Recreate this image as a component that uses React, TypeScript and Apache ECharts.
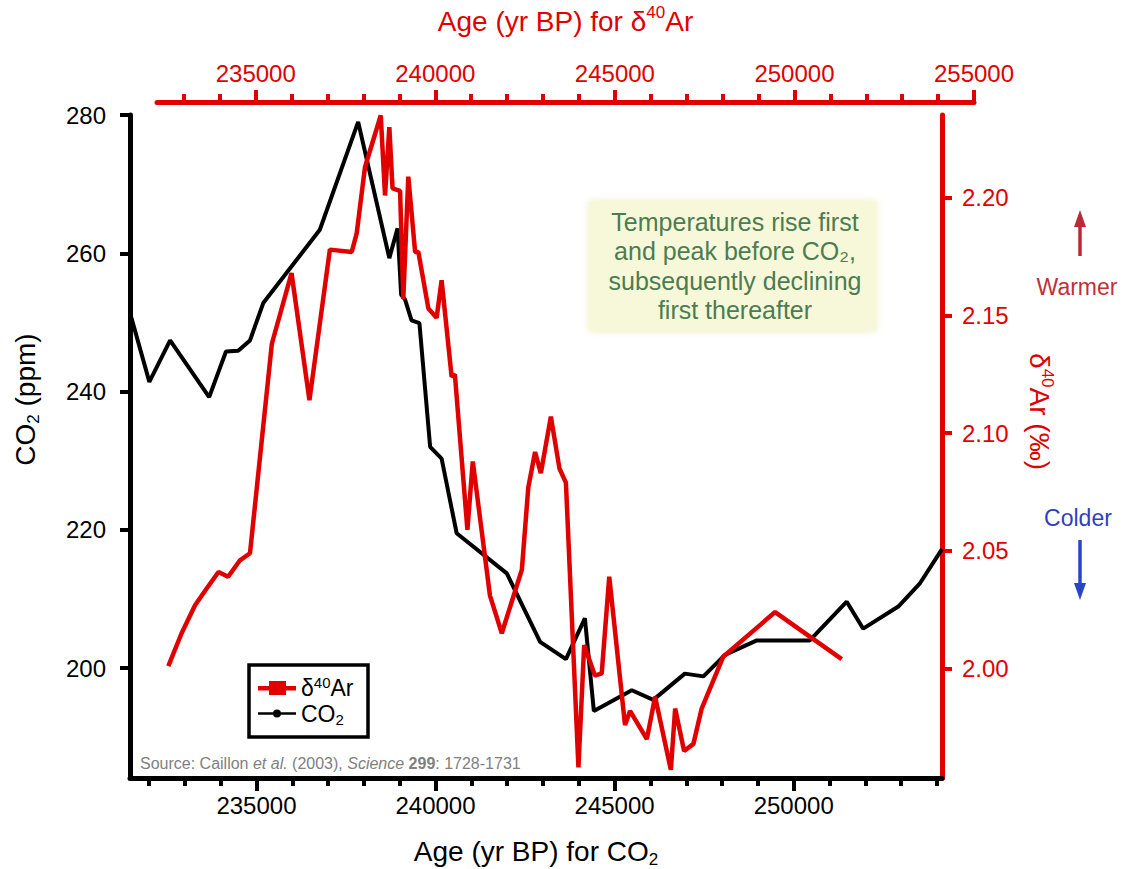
import React, { useEffect, useRef } from 'react';
import * as echarts from 'echarts';

// CO2 record (age in yr BP, ppm)
const co2Age = [231470, 232010, 232590, 233680, 234150, 234490, 234820, 235190, 236770, 237840, 238710, 238940, 239040, 239150, 239330, 239550, 239850, 240170, 240590, 241990, 242920, 243640, 244170, 244420, 245480, 246080, 246960, 247480, 248080, 248970, 250450, 251480, 251940, 252920, 253530, 254140];
const co2Ppm = [251.4, 241.4, 247.4, 239.2, 245.8, 245.9, 247.4, 252.8, 263.4, 279.0, 259.3, 263.6, 254.0, 253.3, 250.3, 249.9, 232.0, 230.3, 219.5, 213.7, 203.8, 201.3, 207.2, 193.8, 196.8, 195.4, 199.2, 198.8, 201.9, 204.0, 204.0, 209.6, 205.7, 208.9, 212.3, 217.2];

// delta 40Ar record (age in yr BP, permil)
const arAge = [232540, 232910, 233290, 233610, 233940, 234210, 234540, 234820, 235430, 235980, 236480, 237050, 237660, 237800, 238030, 238470, 238590, 238710, 238800, 239010, 239100, 239240, 239430, 239520, 239800, 240030, 240170, 240450, 240540, 240890, 241040, 241520, 241850, 242410, 242590, 242780, 242940, 243220, 243460, 243640, 243990, 244150, 244450, 244640, 244850, 245290, 245430, 245900, 246130, 246570, 246690, 246940, 247200, 247430, 248030, 249480, 251340];
const arPermil = [2.001, 2.015, 2.027, 2.034, 2.041, 2.039, 2.046, 2.049, 2.138, 2.168, 2.114, 2.178, 2.177, 2.185, 2.213, 2.235, 2.201, 2.230, 2.204, 2.203, 2.157, 2.209, 2.177, 2.177, 2.153, 2.149, 2.165, 2.124, 2.125, 2.059, 2.088, 2.031, 2.015, 2.042, 2.077, 2.092, 2.083, 2.107, 2.085, 2.079, 1.958, 2.010, 1.997, 1.998, 2.039, 1.976, 1.982, 1.970, 1.988, 1.957, 1.983, 1.965, 1.968, 1.983, 2.005, 2.024, 2.004];

// tick labels
const bottomTicks = [235000, 240000, 245000, 250000];
const topTicks = [235000, 240000, 245000, 250000, 255000];
const co2Ticks = [200, 220, 240, 260, 280];
const arTicks = [2.0, 2.05, 2.1, 2.15, 2.2];

const RED = '#e00000';
const FONT = '"Liberation Sans", Arial, Helvetica, sans-serif';

export default function App() {
  const ref = useRef<HTMLDivElement>(null);

  useEffect(() => {
    if (!ref.current) return;
    const chart = echarts.init(ref.current, null, { renderer: 'svg' });

    const co2Data = co2Age.map((a, i) => [a, co2Ppm[i]]);
    const arData = arAge.map((a, i) => [a, arPermil[i]]);

    const rich = (color: string) => ({
      t: { fontSize: 28, lineHeight: 34, color, fontFamily: FONT },
      sup: { fontSize: 17, lineHeight: 17, verticalAlign: 'top', color, fontFamily: FONT },
      sub: { fontSize: 17, lineHeight: 17, verticalAlign: 'bottom', color, fontFamily: FONT },
    });
    const legendRich = {
      t: { fontSize: 23, lineHeight: 26, color: '#000', fontFamily: FONT },
      sup: { fontSize: 15, lineHeight: 6, verticalAlign: 'top', color: '#000', fontFamily: FONT },
      sub: { fontSize: 15, lineHeight: 6, verticalAlign: 'bottom', color: '#000', fontFamily: FONT },
    };

    const AXW = 5;
    const xCommon = (color: string) => ({
      type: 'value',
      axisLine: { show: true, onZero: false, lineStyle: { color, width: AXW } },
      minorTick: { show: true, splitNumber: 5, length: 8, lineStyle: { color, width: 4 } },
      splitLine: { show: false },
      minorSplitLine: { show: false },
      minInterval: 5000,
      maxInterval: 5000,
      nameLocation: 'middle',
      nameMoveOverlap: false,
    });

    const option: any = {
      animation: false,
      textStyle: { fontFamily: FONT },
      grid: [
        { left: 130, right: 183, top: 115, bottom: 91, containLabel: false, outerBoundsMode: 'none' },
        { left: 157, right: 151, top: 102, height: 1, containLabel: false, outerBoundsMode: 'none' },
      ],
      xAxis: [
        {
          ...xCommon('#000'),
          gridIndex: 0,
          position: 'bottom',
          min: 231470,
          max: 254140,
          axisTick: { show: true, length: 13, customValues: bottomTicks, lineStyle: { color: '#000', width: 4 } },
          axisLabel: { customValues: bottomTicks, formatter: (v: number) => String(v), color: '#000', fontSize: 24, margin: 15, fontFamily: FONT },
          name: '{t|Age (yr BP) for CO}{sub|2}',
          nameGap: 56,
          nameTextStyle: { rich: rich('#000') },
        },
        {
          ...xCommon(RED),
          gridIndex: 1,
          position: 'top',
          min: 232250,
          max: 255000,
          axisTick: { show: true, length: 12, customValues: topTicks, lineStyle: { color: RED, width: 4 } },
          axisLabel: { customValues: topTicks, formatter: (v: number) => String(v), color: RED, fontSize: 24, margin: 17, fontFamily: FONT },
          name: '{t|Age (yr BP) for δ}{sup|40}{t|Ar}',
          nameGap: 64,
          nameTextStyle: { rich: rich(RED) },
        },
      ],
      yAxis: [
        {
          type: 'value',
          gridIndex: 0,
          position: 'left',
          min: 184.1,
          max: 280,
          axisLine: { show: true, onZero: false, lineStyle: { color: '#000', width: AXW } },
          axisTick: { show: true, length: 10, customValues: co2Ticks, lineStyle: { color: '#000', width: 4 } },
          axisLabel: { customValues: co2Ticks, color: '#000', fontSize: 24, margin: 24, fontFamily: FONT },
          splitLine: { show: false },
          name: '{t|CO}{sub|2}{t| (ppm)}',
          nameLocation: 'middle',
          nameGap: 88,
          nameMoveOverlap: false,
          nameTextStyle: { rich: rich('#000'), padding: [0, 0, 0, 94] },
        },
        {
          type: 'value',
          gridIndex: 0,
          position: 'right',
          min: 1.9535,
          max: 2.2352,
          axisLine: { show: true, onZero: false, lineStyle: { color: RED, width: AXW } },
          axisTick: { show: true, length: 10, customValues: arTicks, lineStyle: { color: RED, width: 4 } },
          axisLabel: { customValues: arTicks, formatter: (v: number) => v.toFixed(2), color: RED, fontSize: 24, margin: 20, fontFamily: FONT },
          splitLine: { show: false },
          name: '{t|δ}{sup|40}{t|Ar (‰)}',
          nameLocation: 'middle',
          nameRotate: -90,
          nameGap: 80,
          nameMoveOverlap: false,
          nameTextStyle: { rich: rich(RED), padding: [0, 70, 0, 0] },
        },
        { type: 'value', gridIndex: 1, show: false, min: 0, max: 1 },
      ],
      legend: [
        {
          data: [{ name: 'δ40Ar', icon: 'path://M0,5L38,5L38,9.5L0,9.5Z M11,0L28,0L28,14L11,14Z' }],
          left: 258,
          top: 675,
          orient: 'vertical',
          padding: 0,
          itemWidth: 38,
          itemHeight: 14,
          selectedMode: false,
          z: 6,
          itemStyle: { borderWidth: 0 },
          formatter: () => '{t|δ}{sup|40}{t|Ar}',
          textStyle: { rich: legendRich },
        },
        {
          data: [{ name: 'CO2', icon: 'path://M0,2.7L38,2.7L38,5.3L0,5.3Z M19,0A4,4 0 1 1 19,8A4,4 0 1 1 19,0Z' }],
          left: 258,
          top: 702,
          orient: 'vertical',
          padding: 0,
          itemWidth: 38,
          itemHeight: 8,
          selectedMode: false,
          z: 6,
          itemStyle: { borderWidth: 0 },
          formatter: () => '{t|CO}{sub|2}',
          textStyle: { rich: legendRich },
        },
      ],
      graphic: [
        {
          type: 'rect',
          z: 3,
          shape: { x: 249, y: 665, width: 119, height: 72 },
          style: { fill: '#fff', stroke: '#000', lineWidth: 3.5 },
        },
        {
          type: 'text',
          z: 3,
          style: {
            x: 140,
            y: 763,
            verticalAlign: 'middle',
            text: '{n|Source: Caillon }{i|et al.}{n| (2003), }{i|Science}{n| }{b|299}{n|: 1728-1731}',
            fill: '#808080',
            rich: {
              n: { fontSize: 16, fill: '#808080', fontFamily: FONT },
              i: { fontSize: 16, fill: '#808080', fontStyle: 'italic', fontFamily: FONT },
              b: { fontSize: 16, fill: '#808080', fontWeight: 'bold', fontFamily: FONT },
            },
          },
        },
        {
          type: 'rect',
          z: 1,
          shape: { x: 589, y: 201, width: 287, height: 130 },
          style: { fill: '#f7f8da', shadowBlur: 8, shadowColor: 'rgba(235,238,190,0.9)' },
        },
        {
          type: 'text',
          z: 2,
          style: {
            x: 735,
            y: 266,
            align: 'center',
            verticalAlign: 'middle',
            text: 'Temperatures rise first\nand peak before CO₂,\nsubsequently declining\nfirst thereafter',
            fontSize: 25,
            lineHeight: 29.5,
            fill: '#4c7c50',
            fontFamily: FONT,
          },
        },
        {
          type: 'text',
          style: { x: 1077, y: 287, align: 'center', verticalAlign: 'middle', text: 'Warmer', fontSize: 23, fill: '#c0303a', fontFamily: FONT },
        },
        {
          type: 'line',
          shape: { x1: 1080, y1: 256, x2: 1080, y2: 224 },
          style: { stroke: '#b82a36', lineWidth: 3.5 },
        },
        {
          type: 'polygon',
          shape: { points: [[1074, 227], [1086, 227], [1080, 210]] },
          style: { fill: '#b82a36' },
        },
        {
          type: 'text',
          style: { x: 1078, y: 518, align: 'center', verticalAlign: 'middle', text: 'Colder', fontSize: 23, fill: '#2f3fc0', fontFamily: FONT },
        },
        {
          type: 'line',
          shape: { x1: 1080, y1: 540, x2: 1080, y2: 586 },
          style: { stroke: '#2845c8', lineWidth: 3.5 },
        },
        {
          type: 'polygon',
          shape: { points: [[1074, 583], [1086, 583], [1080, 600]] },
          style: { fill: '#2845c8' },
        },
      ],
      series: [
        {
          name: 'CO2',
          type: 'line',
          xAxisIndex: 0,
          yAxisIndex: 0,
          data: co2Data,
          symbol: 'none',
          clip: false,
          color: '#000',
          lineStyle: { color: '#000', width: 4 },
          z: 3,
        },
        {
          name: 'δ40Ar',
          type: 'line',
          xAxisIndex: 0,
          yAxisIndex: 1,
          data: arData,
          symbol: 'none',
          clip: false,
          color: RED,
          lineStyle: { color: RED, width: 4.5 },
          z: 4,
        },
      ],
    };

    chart.setOption(option);
    return () => chart.dispose();
  }, []);

  return <div ref={ref} style={{ position: 'fixed', left: 0, top: 0, width: 1125, height: 869, background: '#fff' }} />;
}
